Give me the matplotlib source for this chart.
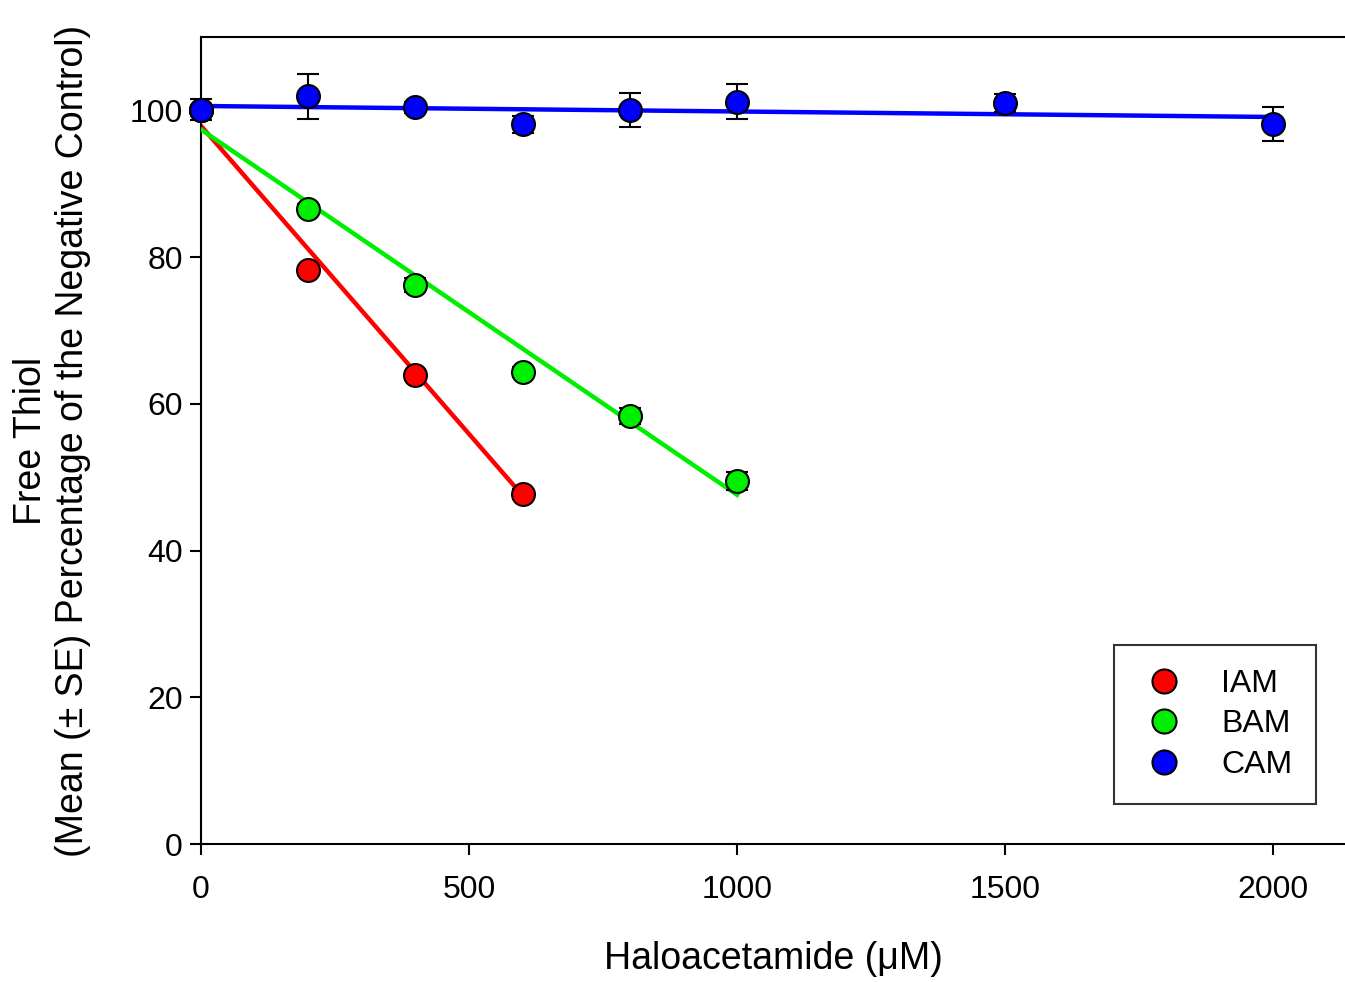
import matplotlib
matplotlib.use("Agg")
import matplotlib.pyplot as plt

plt.rcParams['font.family'] = ['Liberation Sans', 'DejaVu Sans']

# data
iam_x = [0, 200, 400, 600]
iam_y = [100.0, 78.2, 63.9, 47.7]
iam_se = [0.8, 0.6, 0.6, 0.7]

bam_x = [0, 200, 400, 600, 800, 1000]
bam_y = [100.0, 86.6, 76.2, 64.4, 58.4, 49.5]
bam_se = [0.8, 0.6, 0.9, 0.6, 1.1, 1.2]

cam_x = [0, 200, 400, 600, 800, 1000, 1500, 2000]
cam_y = [100.1, 101.9, 100.4, 98.1, 100.1, 101.2, 101.0, 98.1]
cam_se = [1.4, 3.1, 0.8, 1.2, 2.3, 2.4, 1.2, 2.3]

# linear fits (end points)
iam_fit_x = [0, 600]
iam_fit_y = [97.9, 47.5]
bam_fit_x = [0, 1000]
bam_fit_y = [97.4, 47.6]
cam_fit_x = [0, 2000]
cam_fit_y = [100.6, 99.1]

labels = ["IAM", "BAM", "CAM"]
colors = ["#ff0000", "#00ee00", "#0000ff"]

fig = plt.figure(figsize=(13.45, 9.82), dpi=100)
ax = fig.add_axes([0.1494, 0.1405, 0.8506, 0.8218])

series = [
    (iam_x, iam_y, iam_se, iam_fit_x, iam_fit_y),
    (bam_x, bam_y, bam_se, bam_fit_x, bam_fit_y),
    (cam_x, cam_y, cam_se, cam_fit_x, cam_fit_y),
]

for i, (x, y, se, fx, fy) in enumerate(series):
    ax.plot(fx, fy, color=colors[i], lw=3.2, zorder=2 + i * 3)
    eb = ax.errorbar(x, y, yerr=se, fmt='none', ecolor='black', elinewidth=1.5,
                     capsize=8, capthick=1.5, zorder=3 + i * 3)
    for art in eb.lines[1] + eb.lines[2]:
        art.set_clip_on(False)
    ax.plot(x, y, 'o', color=colors[i], markersize=16.5, markeredgecolor='black',
            markeredgewidth=1.5, label=labels[i], zorder=4 + i * 3,
            linestyle='none', clip_on=False)

ax.set_xlim(0, 2134)
ax.set_ylim(0, 110)
ax.set_xticks([0, 500, 1000, 1500, 2000])
ax.set_yticks([0, 20, 40, 60, 80, 100])

ax.spines['right'].set_visible(False)
for s in ['left', 'top', 'bottom']:
    ax.spines[s].set_linewidth(1.5)
ax.tick_params(direction='out', length=8, width=1.5, labelsize=23)
ax.tick_params(axis='x', pad=14)
ax.tick_params(axis='y', pad=5)

ax.set_xlabel("Haloacetamide (\u03bcM)", fontsize=27, labelpad=26)
ax.set_ylabel("Free Thiol\n(Mean (\u00b1 SE) Percentage of the Negative Control)",
              fontsize=27, labelpad=28, linespacing=1.2)

leg = ax.legend(loc='lower right', bbox_to_anchor=(0.975, 0.05), fontsize=23,
                frameon=True, fancybox=False, edgecolor='black', borderpad=0.75,
                handletextpad=1.0, labelspacing=0.32, borderaxespad=0,
                markerscale=1.05, handlelength=1.6)
leg.get_frame().set_linewidth(1.5)

fig.savefig("out.png", dpi=100)
